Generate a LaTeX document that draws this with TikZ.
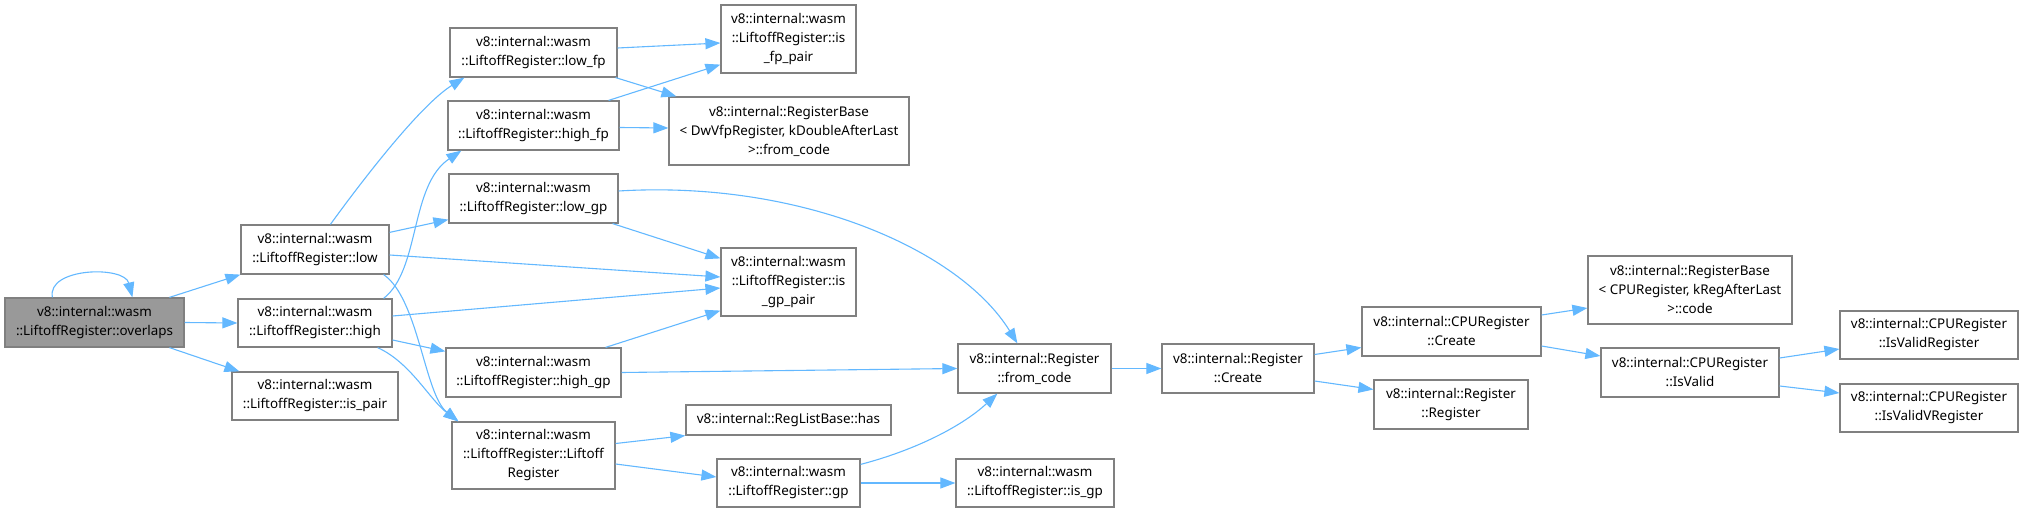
\documentclass[tikz,border=0pt]{standalone}
\usepackage{fontspec}
\setmainfont{Noto Sans}
\usetikzlibrary{arrows.meta,calc}
\definecolor{edgec}{HTML}{63B8FF}
\definecolor{bordc}{HTML}{808080}
\definecolor{mainfill}{HTML}{999999}
\tikzset{
  box/.style={draw=bordc, line width=1.2pt, fill=white, inner sep=0pt, align=center,
    font=\fontsize{13.4}{19}\selectfont},
  e/.style={draw=edgec, line width=1.1pt, -{Triangle[length=15pt,width=11pt]}}
}
\begin{document}
\begin{tikzpicture}[x=1pt,y=-1pt]
\useasboundingbox (0,0) rectangle (2024,513);
% nodes
\node[box, fill=mainfill, minimum width=179pt, minimum height=49pt] (ov) at (94.5,322.5) {v8::internal::wasm\\::LiftoffRegister::overlaps};
\node[box, minimum width=148pt, minimum height=49pt] (low) at (315,249.5) {v8::internal::wasm\\::LiftoffRegister::low};
\node[box, minimum width=154pt, minimum height=48pt] (high) at (315,323) {v8::internal::wasm\\::LiftoffRegister::high};
\node[box, minimum width=166pt, minimum height=48pt] (ispair) at (315,396) {v8::internal::wasm\\::LiftoffRegister::is\_pair};
\node[box, minimum width=167pt, minimum height=49pt] (lowfp) at (533.5,52.5) {v8::internal::wasm\\::LiftoffRegister::low\_fp};
\node[box, minimum width=171pt, minimum height=49pt] (highfp) at (533.5,125.5) {v8::internal::wasm\\::LiftoffRegister::high\_fp};
\node[box, minimum width=169pt, minimum height=49pt] (lowgp) at (533.5,198.5) {v8::internal::wasm\\::LiftoffRegister::low\_gp};
\node[box, minimum width=175pt, minimum height=49pt] (highgp) at (533.5,372.5) {v8::internal::wasm\\::LiftoffRegister::high\_gp};
\node[box, minimum width=163pt, minimum height=67pt] (ctor) at (533.5,455.5) {v8::internal::wasm\\::LiftoffRegister::Liftoff\\Register};
\node[box, minimum width=135pt, minimum height=68pt] (isfp) at (788.5,39) {v8::internal::wasm\\::LiftoffRegister::is\\\_fp\_pair};
\node[box, minimum width=240pt, minimum height=68pt] (rbdw) at (789,131) {v8::internal::RegisterBase\\< DwVfpRegister, kDoubleAfterLast\\>::from\_code};
\node[box, minimum width=135pt, minimum height=68pt] (isgppair) at (788.5,282) {v8::internal::wasm\\::LiftoffRegister::is\\\_gp\_pair};
\node[box, minimum width=205pt, minimum height=30pt] (has) at (788.5,420) {v8::internal::RegListBase::has};
\node[box, minimum width=143pt, minimum height=48pt] (gp) at (788.5,483) {v8::internal::wasm\\::LiftoffRegister::gp};
\node[box, minimum width=153pt, minimum height=49pt] (fromcode) at (1034.5,368.5) {v8::internal::Register\\::from\_code};
\node[box, minimum width=158pt, minimum height=48pt] (isgp) at (1035,483) {v8::internal::wasm\\::LiftoffRegister::is\_gp};
\node[box, minimum width=152pt, minimum height=49pt] (rcreate) at (1238,368.5) {v8::internal::Register\\::Create};
\node[box, minimum width=179pt, minimum height=49pt] (cpucreate) at (1451.5,331.5) {v8::internal::CPURegister\\::Create};
\node[box, minimum width=154pt, minimum height=49pt] (rreg) at (1451,404.5) {v8::internal::Register\\::Register};
\node[box, minimum width=204pt, minimum height=68pt] (rbcpu) at (1690,290) {v8::internal::RegisterBase\\< CPURegister, kRegAfterLast\\>::code};
\node[box, minimum width=178pt, minimum height=49pt] (isvalid) at (1690,372.5) {v8::internal::CPURegister\\::IsValid};
\node[box, minimum width=178pt, minimum height=48pt] (isvalidreg) at (1929,335) {v8::internal::CPURegister\\::IsValidRegister};
\node[box, minimum width=178pt, minimum height=48pt] (isvalidvreg) at (1929,408) {v8::internal::CPURegister\\::IsValidVRegister};
% edges
\draw[e] ($(ov.north west)+(48,0)$) .. controls ($(ov.north west)+(42,-30)$) and ($(ov.north west)+(120,-32)$) .. ($(ov.north west)+(128,0)$);
\draw[e] ($(ov.north west)+(165,0)$) -- (low.south west);
\draw[e] (ov.east) -- (high.west);
\draw[e] ($(ov.south west)+(165,0)$) -- ($(ispair.north west)+(8,0)$);
\draw[e] ($(low.north west)+(90,0)$) .. controls ($(low.north west)+(119,-40)$) and ($(lowfp.south west)+(-30,28)$) .. ($(lowfp.south west)+(15,0)$);
\draw[e] ($(low.north east)+(0,8)$) -- ($(lowgp.south west)+(0,-4)$);
\draw[e] ($(low.east)+(0,5.5)$) -- ($(isgppair.west)+(0,-5)$);
\draw[e] ($(low.south east)+(-6,0)$) .. controls ($(low.south east)+(29,24)$) and ($(ctor.north west)+(-27,-27)$) .. ($(ctor.north west)+(7,0)$);
\draw[e] ($(high.north east)+(-9,0)$) .. controls ($(high.north east)+(28,-29)$) and ($(highfp.south west)+(-38,35)$) .. ($(highfp.south west)+(14,0)$);
\draw[e] ($(high.east)+(0,-7)$) -- ($(isgppair.west)+(0,6)$);
\draw[e] ($(high.east)+(0,17)$) -- ($(highgp.north west)+(0,4)$);
\draw[e] ($(high.south east)+(-15,0)$) .. controls ($(high.south east)+(18,15)$) and ($(ctor.north west)+(-22,-22)$) .. ($(ctor.north west)+(7,0)$);
\draw[e] ($(lowfp.east)+(0,-4.5)$) -- ($(isfp.west)+(0,4)$);
\draw[e] ($(lowfp.south east)+(-2,0)$) -- ($(rbdw.north west)+(8,0)$);
\draw[e] ($(highfp.north east)+(-11,0)$) -- ($(isfp.south west)+(0,-9)$);
\draw[e] ($(highfp.east)+(0,2)$) -- ($(rbdw.west)+(0,-3)$);
\draw[e] ($(lowgp.east)+(0,-7.5)$) .. controls ($(lowgp.east)+(182,-18.5)$) and ($(fromcode.north west)+(2,-94)$) .. ($(fromcode.north west)+(60,0)$);
\draw[e] ($(lowgp.south east)+(-6,0)$) -- ($(isgppair.north west)+(0,11)$);
\draw[e] ($(highgp.north east)+(-16,0)$) -- ($(isgppair.south west)+(0,-6)$);
\draw[e] (highgp.east) -- (fromcode.west);
\draw[e] ($(ctor.east)+(0,-12)$) -- (has.south west);
\draw[e] ($(ctor.east)+(0,8.5)$) -- ($(gp.west)+(0,-6)$);
\draw[e] ($(gp.north east)+(0,6)$) .. controls ($(gp.north east)+(50,-7)$) and ($(fromcode.south west)+(2,35)$) .. ($(fromcode.south west)+(40,0)$);
\draw[e] (gp.east) -- (isgp.west);
\draw[e] (fromcode.east) -- (rcreate.west);
\draw[e] ($(rcreate.east)+(0,-14)$) -- ($(cpucreate.west)+(0,16)$);
\draw[e] ($(rcreate.east)+(0,12.5)$) -- ($(rreg.west)+(0,-15)$);
\draw[e] ($(cpucreate.east)+(0,-16.5)$) -- ($(rbcpu.west)+(0,18)$);
\draw[e] ($(cpucreate.east)+(0,14.5)$) -- ($(isvalid.west)+(0,-16.5)$);
\draw[e] ($(isvalid.east)+(0,-14.5)$) -- ($(isvalidreg.west)+(0,14)$);
\draw[e] ($(isvalid.east)+(0,13.5)$) -- ($(isvalidvreg.west)+(0,-15)$);
\end{tikzpicture}
\end{document}
